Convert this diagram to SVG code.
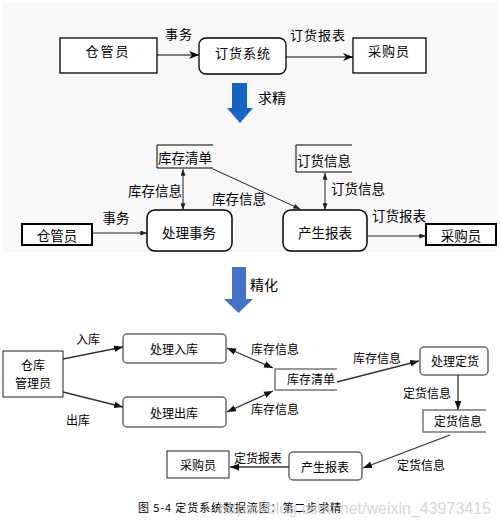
<svg xmlns="http://www.w3.org/2000/svg" width="500" height="531" viewBox="0 0 500 531">
<defs>
  <marker id="a1" viewBox="0 0 10 8" refX="10" refY="4" markerWidth="11" markerHeight="8" markerUnits="userSpaceOnUse" orient="auto-start-reverse"><path d="M0,0 L10,4 L0,8 L3,4 z" fill="#000"/></marker>
  <marker id="a2" viewBox="0 0 8 6" refX="8" refY="3" markerWidth="7" markerHeight="5" markerUnits="userSpaceOnUse" orient="auto-start-reverse"><path d="M0,0 L8,3 L0,6 z" fill="#222"/></marker>
  <marker id="a3" viewBox="0 0 8 6" refX="8" refY="3" markerWidth="9" markerHeight="7" markerUnits="userSpaceOnUse" orient="auto-start-reverse"><path d="M0,0 L8,3 L0,6 z" fill="#111"/></marker>
</defs>
<style>
  text { font-family: "Noto Sans CJK SC", "Noto Sans", sans-serif; fill: #000; dominant-baseline: central; }
  .c { text-anchor: middle; }
  .s1 { font-size: 13px; }
  .s2 { font-size: 13.5px; }
  .s3 { font-size: 12px; }
  .box1 { fill: #fff; stroke: #000; stroke-width: 1.3; }
  .proc2 { fill: #fff; stroke: #000; stroke-width: 1.5; }
  .ext2 { fill: #fff; stroke: #000; stroke-width: 2; }
  .store2 { fill: none; stroke: #000; stroke-width: 1; }
  .proc3 { fill: #fff; stroke: #6a6a6a; stroke-width: 1.5; }
  .ext3 { fill: #fff; stroke: #222; stroke-width: 1; }
  .store3 { fill: none; stroke: #777; stroke-width: 1.5; }
  .l1 { stroke: #000; stroke-width: 1.2; fill: none; marker-end: url(#a1); }
  .l2 { stroke: #222; stroke-width: 1; fill: none; marker-end: url(#a2); }
  .l2d { stroke: #222; stroke-width: 1; fill: none; marker-start: url(#a2); marker-end: url(#a2); }
  .l3 { stroke: #333; stroke-width: 1.3; fill: none; marker-end: url(#a3); }
  .l3d { stroke: #333; stroke-width: 1.3; fill: none; marker-start: url(#a3); marker-end: url(#a3); }
</style>

<rect x="3" y="3" width="494" height="249" fill="#f8f8f8"/>

<!-- Section 1 -->
<g id="s1-cangguanyuan"><rect class="box1" x="60" y="38" width="97" height="35"/><text class="c s1" x="108" y="50" letter-spacing="2">仓管员</text></g>
<g id="s1-dinghuoxitong"><rect class="box1" x="199" y="38" width="87" height="36" rx="7"/><text class="c s1" x="243" y="52" letter-spacing="1">订货系统</text></g>
<g id="s1-caigouyuan"><rect class="box1" x="353" y="38" width="73" height="35"/><text class="c s1" x="389" y="50" letter-spacing="1">采购员</text></g>

<!-- Section 2 -->
<g id="s2-kucunqingdan"><path class="store2" d="M213,145 H157 V168 H213"/><text class="s2" x="158" y="157">库存清单</text></g>
<g id="s2-dinghuoxinxi"><path class="store2" d="M352,145 H296 V172 H352"/><text class="s2" x="297" y="160">订货信息</text></g>
<g id="s2-chulishiwu"><rect class="proc2" x="147" y="210" width="85" height="41" rx="8"/><text class="c s2" x="189" y="232">处理事务</text></g>
<g id="s2-chanshengbaobiao"><rect class="proc2" x="283" y="210" width="84" height="41" rx="8"/><text class="c s2" x="325" y="232">产生报表</text></g>
<g id="s2-cangguanyuan"><rect class="ext2" x="22" y="224" width="70" height="21"/><text class="c s2" x="57" y="235">仓管员</text></g>
<g id="s2-caigouyuan"><rect class="ext2" x="426" y="224" width="70" height="21"/><text class="c s2" x="461" y="235">采购员</text></g>

<!-- Section 3 -->
<g id="s3-cangkuguanliyuan"><rect class="ext3" x="3" y="351" width="60" height="46"/><text class="c s3" x="33" y="364">仓库</text><text class="c s3" x="33" y="382">管理员</text></g>
<g id="s3-chuliruku"><rect class="proc3" x="123" y="334" width="103" height="29" rx="4"/><text class="c s3" x="174" y="348">处理入库</text></g>
<g id="s3-chulichuku"><rect class="proc3" x="123" y="397" width="103" height="30" rx="4"/><text class="c s3" x="174" y="412">处理出库</text></g>
<g id="s3-kucunqingdan"><path class="store3" d="M337,369 H275 V390 H337"/><text class="s3" x="287" y="378">库存清单</text></g>
<g id="s3-chulidinghuo"><rect class="proc3" x="420" y="347" width="68" height="28" rx="4"/><text class="c s3" x="455" y="360">处理定货</text></g>
<g id="s3-dinghuoxinxi"><path class="store3" d="M486,410 H423 V432 H486"/><text class="c s3" x="458" y="420">定货信息</text></g>
<g id="s3-chanshengbaobiao"><rect class="proc3" x="289" y="452" width="73" height="28" rx="4"/><text class="c s3" x="325" y="466">产生报表</text></g>
<g id="s3-caigouyuan"><rect class="ext3" x="167" y="451" width="62" height="27"/><text class="c s3" x="198" y="464">采购员</text></g>

<!-- Connectors -->
<g id="connectors">
  <line class="l1" x1="157" y1="55" x2="199" y2="55"/>
  <line class="l1" x1="286" y1="57" x2="353" y2="57"/>

  <line class="l2" x1="92" y1="233" x2="147" y2="233"/>
  <line class="l2d" x1="183" y1="169" x2="183" y2="210"/>
  <line class="l2" x1="213" y1="169" x2="300" y2="209"/>
  <line class="l2d" x1="325" y1="173" x2="325" y2="210"/>
  <line class="l2" x1="367" y1="236" x2="426" y2="236"/>

  <line class="l3" x1="63" y1="359" x2="123" y2="347"/>
  <line class="l3" x1="63" y1="392" x2="123" y2="407"/>
  <line class="l3d" x1="227" y1="348" x2="273" y2="368"/>
  <line class="l3d" x1="227" y1="412" x2="273" y2="391"/>
  <line class="l3" x1="337" y1="382" x2="419" y2="361"/>
  <line class="l3" x1="458" y1="375" x2="458" y2="410"/>
  <line class="l3" x1="450" y1="435" x2="363" y2="468"/>
  <line class="l3" x1="289" y1="467" x2="230" y2="467"/>
</g>

<!-- Connector labels -->
<g id="labels">
  <text class="c s1" x="179" y="33" letter-spacing="1">事务</text>
  <text class="c s1" x="318" y="34" letter-spacing="1">订货报表</text>

  <text class="c s2" x="116" y="217">事务</text>
  <text class="c s2" x="155" y="190">库存信息</text>
  <text class="c s2" x="239" y="198">库存信息</text>
  <text class="c s2" x="358" y="188">订货信息</text>
  <text class="c s2" x="399" y="215">订货报表</text>

  <text class="c s3" x="88" y="338">入库</text>
  <text class="c s3" x="78" y="419">出库</text>
  <text class="c s3" x="275" y="348">库存信息</text>
  <text class="c s3" x="275" y="408">库存信息</text>
  <text class="c s3" x="377" y="357">库存信息</text>
  <text class="c s3" x="427" y="392">定货信息</text>
  <text class="c s3" x="421" y="464">定货信息</text>
  <text class="c s3" x="258" y="457">定货报表</text>
</g>

<!-- Refinement arrows -->
<g id="refine1">
  <polygon points="232,83 247,83 247,108 253,108 240,123 227,108 232,108" fill="#1565c0"/>
  <text x="258" y="97" style="font-size:14px">求精</text>
</g>
<g id="refine2">
  <polygon points="232,267 246,267 246,299 253,299 238.5,313 224,299 232,299" fill="#4472c4"/>
  <text x="250" y="284" style="font-size:14px">精化</text>
</g>

<text x="138" y="507" style="font-size:11px" letter-spacing="0.9" fill="#222">图 5-4  定货系统数据流图：第二步求精</text>
<text x="491" y="508" style="font-family:'Liberation Sans',sans-serif;font-size:16px;fill:#cfcfcf;text-anchor:end;opacity:0.85">https://blog.csdn.net/weixin_43973415</text>
</svg>
